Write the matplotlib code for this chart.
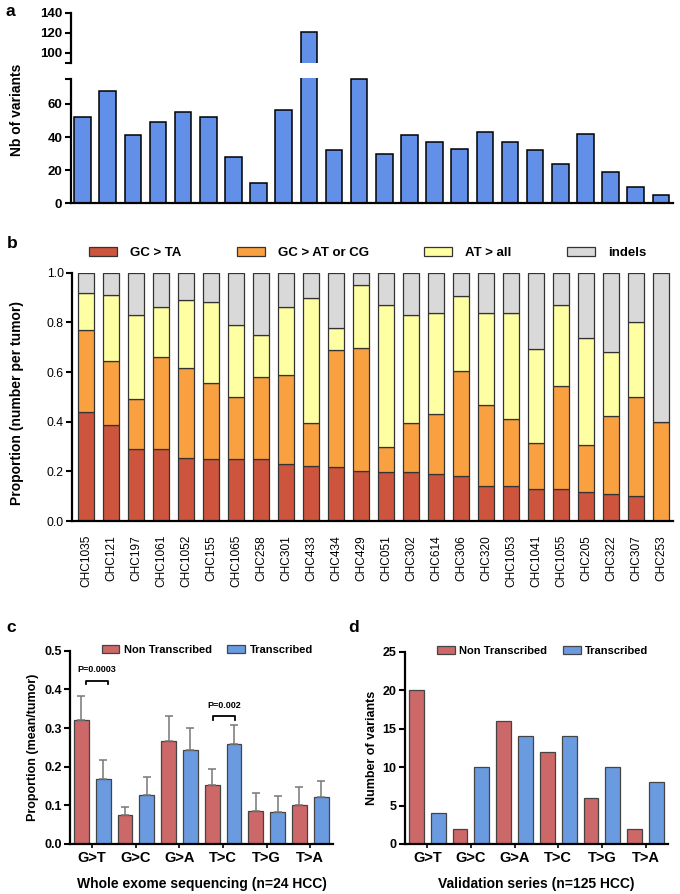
import numpy as np
import matplotlib
matplotlib.use("Agg")
import matplotlib.pyplot as plt

plt.rcParams['font.family'] = ['Liberation Sans', 'DejaVu Sans']

# datos del panel a y b
tumors = ["CHC1035", "CHC121", "CHC197", "CHC1061", "CHC1052", "CHC155", "CHC1065",
          "CHC258", "CHC301", "CHC433", "CHC434", "CHC429", "CHC051", "CHC302",
          "CHC614", "CHC306", "CHC320", "CHC1053", "CHC1041", "CHC1055", "CHC205",
          "CHC322", "CHC307", "CHC253"]
nb_variants = [52, 68, 41, 49, 55, 52, 28, 12, 56, 121, 32, 75, 30, 41, 37, 33, 43,
               37, 32, 24, 42, 19, 10, 5]

gc_ta = [0.44, 0.385, 0.29, 0.29, 0.255, 0.25, 0.25, 0.25, 0.23, 0.22, 0.217, 0.20,
         0.197, 0.196, 0.188, 0.18, 0.139, 0.139, 0.127, 0.127, 0.118, 0.107, 0.099, 0.0]
gc_at_cg = [0.33, 0.26, 0.20, 0.37, 0.36, 0.305, 0.25, 0.33, 0.36, 0.175, 0.471, 0.496,
            0.103, 0.198, 0.241, 0.425, 0.33, 0.27, 0.188, 0.416, 0.19, 0.317, 0.40, 0.398]
at_all = [0.15, 0.265, 0.34, 0.20, 0.275, 0.325, 0.29, 0.17, 0.27, 0.505, 0.09, 0.253,
          0.57, 0.437, 0.41, 0.302, 0.37, 0.43, 0.377, 0.327, 0.431, 0.258, 0.301, 0.0]
indels = [0.08, 0.09, 0.17, 0.14, 0.11, 0.12, 0.21, 0.25, 0.14, 0.10, 0.222, 0.051,
          0.13, 0.169, 0.161, 0.093, 0.161, 0.161, 0.308, 0.13, 0.261, 0.318, 0.20, 0.602]
b_labels = ["GC > TA", "GC > AT or CG", "AT > all", "indels"]

# datos de los paneles c y d
mut_types = ["G>T", "G>C", "G>A", "T>C", "T>G", "T>A"]
c_non = [0.322, 0.074, 0.266, 0.152, 0.085, 0.102]
c_non_err = [0.061, 0.022, 0.065, 0.042, 0.046, 0.045]
c_tr = [0.167, 0.128, 0.244, 0.259, 0.082, 0.122]
c_tr_err = [0.049, 0.046, 0.057, 0.048, 0.042, 0.042]
d_non = [20, 2, 16, 12, 6, 2]
d_tr = [4, 10, 14, 14, 10, 8]

W, H = 680, 894
fig = plt.figure(figsize=(6.8, 8.94), dpi=100)

def ax_px(left, top, right, bottom):
    return fig.add_axes([left / W, 1 - bottom / H, (right - left) / W, (bottom - top) / H])

def clean(ax):
    ax.spines['top'].set_visible(False)
    ax.spines['right'].set_visible(False)
    ax.spines['left'].set_linewidth(1.6)
    ax.spines['bottom'].set_linewidth(1.6)

x = np.arange(len(tumors))
blue_a = "#6290e8"

# panel a, eje cortado
axa = ax_px(70.7, 78, 673, 203.3)
axa_up = ax_px(70.7, 11.7, 673, 62.7)
for ax in (axa, axa_up):
    ax.bar(x, nb_variants, width=0.66, color=blue_a, edgecolor="black", linewidth=1.1)
    clean(ax)
    ax.set_xlim(-0.47, 23.48)
    ax.set_xticks([])
    ax.tick_params(axis='y', length=4, width=1.5, labelsize=9.5, pad=2)
axa.set_ylim(0, 75.6)
axa.spines['left'].set_bounds(0, 75)
axa.set_yticks([0, 20, 40, 60, 75])
axa.set_yticklabels(['0', '20', '40', '60', ''], fontweight='bold')
axa_up.set_ylim(90, 141)
axa_up.spines['left'].set_bounds(90, 140)
axa_up.spines['bottom'].set_visible(False)
axa_up.set_yticks([90, 100, 120, 140])
axa_up.set_yticklabels(['', '100', '120', '140'], fontweight='bold')
fig.text(17.5 / W, 1 - 110 / H, "Nb of variants", rotation=90, ha='center', va='center',
         fontsize=10, fontweight='bold')

# panel b
axb = ax_px(72.3, 272.7, 673, 521)
cols_b = ["#cd553e", "#f9a141", "#fefea2", "#d9d9d9"]
bottom = np.zeros(len(tumors))
for vals, col, lab in zip([gc_ta, gc_at_cg, at_all, indels], cols_b, b_labels):
    axb.bar(x, vals, bottom=bottom, width=0.65, color=col, edgecolor="#333333",
            linewidth=0.9, label=lab)
    bottom = bottom + np.array(vals)
clean(axb)
axb.set_xlim(-0.55, 23.47)
axb.set_ylim(0, 1.0)
axb.set_yticks(np.arange(0, 1.01, 0.2))
axb.set_yticklabels(["%.1f" % v for v in np.arange(0, 1.01, 0.2)])
axb.tick_params(axis='y', length=4, width=1.5, labelsize=8.7, pad=2)
axb.set_xticks(x)
axb.set_xticklabels(tumors, rotation=90, fontsize=8.6)
axb.tick_params(axis='x', length=0, pad=10)
axb.legend(ncol=4, loc='center left', bbox_to_anchor=(0.028, 1.079), frameon=False,
           borderpad=0, borderaxespad=0, handlelength=2.1, handleheight=0.6,
           handletextpad=1.0, columnspacing=4.2, prop={'size': 9.5, 'weight': 'bold'})
fig.text(17.5 / W, 1 - 403 / H, "Proportion (number per tumor)", rotation=90,
         ha='center', va='center', fontsize=10, fontweight='bold')

# paneles c y d
red_c = "#cd6868"
blue_c = "#6a9be0"
g = np.arange(len(mut_types))

axc = ax_px(70, 650.7, 333, 844)
axc.bar(g - 0.25, c_non, width=0.34, color=red_c, edgecolor="#444444", linewidth=0.9,
        label="Non Transcribed")
axc.bar(g + 0.25, c_tr, width=0.34, color=blue_c, edgecolor="#444444", linewidth=0.9,
        label="Transcribed")
axc.errorbar(g - 0.25, c_non, yerr=[np.zeros(6), c_non_err], fmt='none', ecolor="#777777",
             elinewidth=1.1, capsize=3, capthick=1.1)
axc.errorbar(g + 0.25, c_tr, yerr=[np.zeros(6), c_tr_err], fmt='none', ecolor="#777777",
             elinewidth=1.1, capsize=3, capthick=1.1)
axc.set_ylim(0, 0.5)
axc.set_yticks(np.arange(0, 0.51, 0.1))
axc.set_yticklabels(["%.1f" % v for v in np.arange(0, 0.51, 0.1)], fontweight='bold')
axc.set_ylabel("Proportion (mean/tumor)", fontsize=9, fontweight='bold')
axc.yaxis.set_label_coords(-0.118, 0.5)
axc.set_xlabel("Whole exome sequencing (n=24 HCC)", fontsize=10, fontweight='bold',
               labelpad=9)

# corchetes de p-valor
for gi, x0, x1, yb, txt, yt in [(0, -0.15, 0.35, 0.422, "P=0.0003", 0.451),
                                (3, -0.225, 0.28, 0.33, "P=0.002", 0.359)]:
    axc.plot([gi + x0, gi + x0, gi + x1, gi + x1], [yb - 0.008, yb, yb, yb - 0.008],
             color="black", linewidth=1.3)
    axc.text(gi + (x0 + x1) / 2, yt, txt, ha='center', va='center', fontsize=6.5,
             fontweight='bold')

axd = ax_px(405, 651.7, 668.3, 844)
axd.bar(g - 0.25, d_non, width=0.34, color=red_c, edgecolor="#444444", linewidth=0.9,
        label="Non Transcribed")
axd.bar(g + 0.25, d_tr, width=0.34, color=blue_c, edgecolor="#444444", linewidth=0.9,
        label="Transcribed")
axd.set_ylim(0, 25)
axd.set_yticks(range(0, 26, 5))
axd.set_yticklabels([str(v) for v in range(0, 26, 5)], fontweight='bold')
axd.set_ylabel("Number of variants", fontsize=9, fontweight='bold')
axd.yaxis.set_label_coords(-0.103, 0.5)
axd.set_xlabel("Validation series (n=125 HCC)", fontsize=10, fontweight='bold',
               labelpad=9)

for ax, lx in [(axc, 0.12), (axd, 0.1215)]:
    clean(ax)
    ax.set_xlim(-0.51, 5.52)
    ax.set_xticks(g)
    ax.set_xticklabels(mut_types, fontweight='bold', fontsize=10.5)
    ax.tick_params(axis='x', length=3, width=1.2, pad=2)
    ax.tick_params(axis='y', length=4, width=1.5, labelsize=9, pad=2)
    ax.legend(ncol=2, loc='center left', bbox_to_anchor=(lx, 1.005), frameon=False,
              borderpad=0, borderaxespad=0, handlelength=1.6, handleheight=0.65,
              handletextpad=0.4, columnspacing=1.4, prop={'size': 8, 'weight': 'bold'})

# letras de los paneles
for lab, px, py in [("a", 10, 11), ("b", 12, 243), ("c", 11, 627), ("d", 354, 628)]:
    fig.text(px / W, 1 - py / H, lab, ha='center', va='center', fontsize=12.5,
             fontweight='bold')

plt.savefig("out.png", dpi=100)
